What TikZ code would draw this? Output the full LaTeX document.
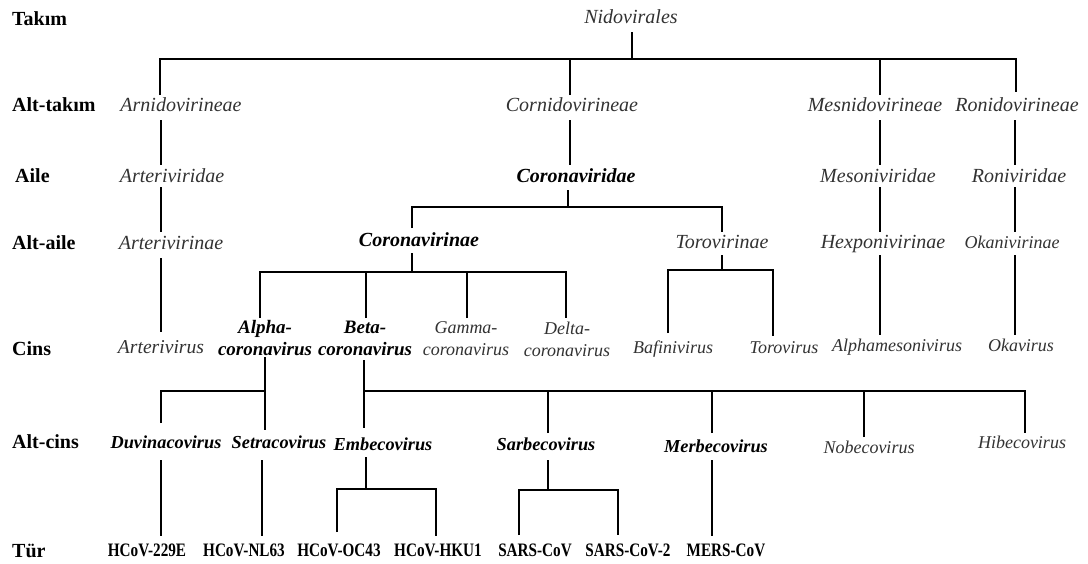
\documentclass[tikz,border=0pt]{standalone}
\usepackage{fontspec}
\setmainfont{Liberation Serif}
\newfontfamily\turfont[FakeStretch=0.8]{Liberation Serif}
\definecolor{txtgray}{RGB}{50,50,50}
\begin{document}
\begin{tikzpicture}[x=1pt,y=-1pt,
  lvl/.style={anchor=base west,inner sep=0pt,font=\fontsize{20}{24}\selectfont\bfseries},
  tx/.style={anchor=base,inner sep=0pt,text=txtgray,font=\fontsize{20}{24}\selectfont\itshape},
  txs/.style={anchor=base,inner sep=0pt,text=txtgray,font=\fontsize{18}{22}\selectfont\itshape},
  bx/.style={anchor=base,inner sep=0pt,text=black,font=\fontsize{20}{24}\selectfont\bfseries\itshape},
  bxs/.style={anchor=base,inner sep=0pt,text=black,font=\fontsize{18.3}{22}\selectfont\bfseries\itshape},
  tx2/.style={anchor=center,inner sep=0pt,align=center,text=txtgray,font=\fontsize{18}{22}\selectfont\itshape},
  bx2/.style={anchor=center,inner sep=0pt,align=center,text=black,font=\fontsize{19}{22}\selectfont\bfseries\itshape},
  sp/.style={anchor=base,inner sep=0pt,text=black,font=\fontsize{19}{23}\turfont\bfseries},
  ln/.style={line width=2pt,black}]
\useasboundingbox[fill=white] (0,0) rectangle (1088,563);

% rank labels
\node[lvl] (rTakim) at (12,25) {Takım};
\node[lvl] (rAlttakim) at (12,111) {Alt-takım};
\node[lvl] (rAile) at (15,182) {Aile};
\node[lvl] (rAltaile) at (12,249) {Alt-aile};
\node[lvl] (rCins) at (12,355) {Cins};
\node[lvl] (rAltcins) at (12,448) {Alt-cins};
\node[lvl] (rTur) at (12,557) {Tür};

% taxa
\node[tx] (nido) at (631,23) {Nidovirales};
\node[tx] (arni) at (181,111) {Arnidovirineae};
\node[tx] (corni) at (572,111) {Cornidovirineae};
\node[tx] (mesni) at (875,111) {Mesnidovirineae};
\node[tx] (roni) at (1017,111) {Ronidovirineae};

\node[tx] (arteriviridae) at (172,182) {Arteriviridae};
\node[bx] (coronaviridae) at (576,182) {Coronaviridae};
\node[tx] (mesoniviridae) at (878,182) {Mesoniviridae};
\node[tx] (roniviridae) at (1019,182) {Roniviridae};

\node[tx] (arterivirinae) at (171,249) {Arterivirinae};
\node[bx] (coronavirinae) at (419,246) {Coronavirinae};
\node[tx] (torovirinae) at (722,248) {Torovirinae};
\node[tx] (hexpo) at (883,248) {Hexponivirinae};
\node[tx,font=\fontsize{18}{22}\selectfont\itshape] (okani) at (1012,248) {Okanivirinae};

\node[tx,font=\fontsize{19.6}{24}\selectfont\itshape] (arterivirus) at (161,353) {Arterivirus};
\node[bx2] (alpha) at (265,338) {Alpha-\\coronavirus};
\node[bx2] (beta) at (365,338) {Beta-\\coronavirus};
\node[tx2] (gamma) at (466,339) {Gamma-\\coronavirus};
\node[tx2] (delta) at (567,339) {Delta-\\coronavirus};
\node[txs] (bafini) at (673,353) {Bafinivirus};
\node[txs] (torovirus) at (784,353) {Torovirus};
\node[txs] (alphameso) at (897,351) {Alphamesonivirus};
\node[txs] (okavirus) at (1021,351) {Okavirus};

\node[bxs] (duvina) at (166,448) {Duvinacovirus};
\node[bxs] (setra) at (279,448) {Setracovirus};
\node[bxs] (embe) at (383,450) {Embecovirus};
\node[bxs] (sarbe) at (546,450) {Sarbecovirus};
\node[bxs] (merbe) at (716,452) {Merbecovirus};
\node[txs] (nobe) at (869,453) {Nobecovirus};
\node[txs] (hibe) at (1022,448) {Hibecovirus};

\node[sp] (s229e) at (147,556) {HCoV-229E};
\node[sp] (snl63) at (244,556) {HCoV-NL63};
\node[sp] (soc43) at (339,556) {HCoV-OC43};
\node[sp] (shku1) at (438,556) {HCoV-HKU1};
\node[sp] (ssars) at (535,556) {SARS-CoV};
\node[sp] (ssars2) at (628,556) {SARS-CoV-2};
\node[sp] (smers) at (726,556) {MERS-CoV};

% connector end points
\coordinate (nidoB) at (632,32);
\coordinate (busA) at (0,59);
\coordinate (arniT) at (160,95);
\coordinate (corniT) at (570,95);
\coordinate (mesniT) at (880,95);
\coordinate (roniT) at (1016,92);

\draw[ln] (nidoB) -- (nidoB |- busA);
\draw[ln] (arniT) -- (arniT |- busA) -- (roniT |- busA) -- (roniT);
\draw[ln] (corniT) -- (corniT |- busA);
\draw[ln] (mesniT) -- (mesniT |- busA);

% Alt-takim -> Aile
\draw[ln] (161,120) coordinate (arniB) -- (161,165) coordinate (arteriviridaeT);
\draw[ln] (570,120) coordinate (corniB) -- (570,165) coordinate (coronaviridaeT);
\draw[ln] (880,120) coordinate (mesniB) -- (880,165) coordinate (mesoniviridaeT);
\draw[ln] (1015,120) coordinate (roniB) -- (1015,165) coordinate (roniviridaeT);

% Aile -> Alt-aile
\draw[ln] (161,187) coordinate (arteriviridaeB) -- (161,232) coordinate (arterivirinaeT);
\draw[ln] (880,187) coordinate (mesoniviridaeB) -- (880,232) coordinate (hexpoT);
\draw[ln] (1015,187) coordinate (roniviridaeB) -- (1015,232) coordinate (okaniT);
\coordinate (coronaviridaeB) at (568,190);
\coordinate (busB) at (0,207);
\coordinate (coronavirinaeT) at (412,228);
\coordinate (torovirinaeT) at (722,232);
\draw[ln] (coronaviridaeB) -- (coronaviridaeB |- busB);
\draw[ln] (coronavirinaeT) -- (coronavirinaeT |- busB) -- (torovirinaeT |- busB) -- (torovirinaeT);

% Alt-aile -> Cins
\draw[ln] (161,258) coordinate (arterivirinaeB) -- (161,332) coordinate (arterivirusT);
\draw[ln] (880,255) coordinate (hexpoB) -- (880,335) coordinate (alphamesoT);
\draw[ln] (1015,255) coordinate (okaniB) -- (1015,335) coordinate (okavirusT);
\coordinate (coronavirinaeB) at (412,253);
\coordinate (busC) at (0,272);
\coordinate (alphaT) at (260,318);
\coordinate (betaT) at (366,318);
\coordinate (gammaT) at (467,318);
\coordinate (deltaT) at (566,318);
\draw[ln] (coronavirinaeB) -- (coronavirinaeB |- busC);
\draw[ln] (alphaT) -- (alphaT |- busC) -- (deltaT |- busC) -- (deltaT);
\draw[ln] (betaT) -- (betaT |- busC);
\draw[ln] (gammaT) -- (gammaT |- busC);
\coordinate (torovirinaeB) at (722,255);
\coordinate (busD) at (0,270);
\coordinate (bafiniT) at (668,333);
\coordinate (torovirusT) at (773,336);
\draw[ln] (torovirinaeB) -- (torovirinaeB |- busD);
\draw[ln] (bafiniT) -- (bafiniT |- busD) -- (torovirusT |- busD) -- (torovirusT);

% Cins -> Alt-cins
\coordinate (alphaB) at (265,357);
\coordinate (setraT) at (265,430);
\coordinate (duvinaT) at (161,423);
\coordinate (busE) at (0,391);
\draw[ln] (alphaB) -- (setraT);
\draw[ln] (duvinaT) -- (duvinaT |- busE) -- (alphaB |- busE);
\coordinate (betaB) at (364,360);
\coordinate (embeT) at (364,428);
\coordinate (sarbeT) at (548,433);
\coordinate (merbeT) at (712,433);
\coordinate (nobeT) at (864,437);
\coordinate (hibeT) at (1025,433);
\draw[ln] (betaB) -- (embeT);
\draw[ln] (betaB |- busE) -- (hibeT |- busE) -- (hibeT);
\draw[ln] (sarbeT) -- (sarbeT |- busE);
\draw[ln] (merbeT) -- (merbeT |- busE);
\draw[ln] (nobeT) -- (nobeT |- busE);

% Alt-cins -> Tur
\draw[ln] (161,460) coordinate (duvinaB) -- (161,536) coordinate (s229eT);
\draw[ln] (262,460) coordinate (setraB) -- (262,536) coordinate (snl63T);
\draw[ln] (712,460) coordinate (merbeB) -- (712,536) coordinate (smersT);
\coordinate (embeB) at (366,457);
\coordinate (busF) at (0,489);
\coordinate (soc43T) at (337,532);
\coordinate (shku1T) at (436,536);
\draw[ln] (embeB) -- (embeB |- busF);
\draw[ln] (soc43T) -- (soc43T |- busF) -- (shku1T |- busF) -- (shku1T);
\coordinate (sarbeB) at (548,460);
\coordinate (busG) at (0,490);
\coordinate (ssarsT) at (519,535);
\coordinate (ssars2T) at (618,535);
\draw[ln] (sarbeB) -- (sarbeB |- busG);
\draw[ln] (ssarsT) -- (ssarsT |- busG) -- (ssars2T |- busG) -- (ssars2T);
\end{tikzpicture}
\end{document}
